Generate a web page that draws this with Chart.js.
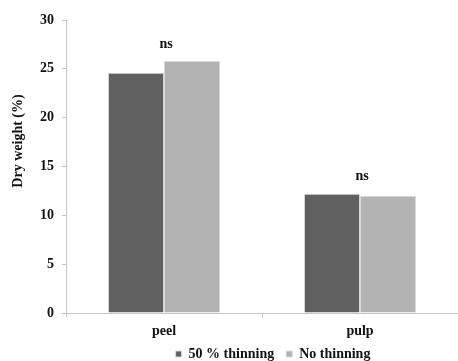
<!DOCTYPE html>
<html>
<head>
<meta charset="utf-8">
<script src="https://cdn.jsdelivr.net/npm/chart.js@4.4.1/dist/chart.umd.min.js"></script>
<style>
  html, body { margin: 0; padding: 0; background: #ffffff; }
  #wrap { width: 458px; height: 361px; position: relative; }
</style>
</head>
<body>
<div id="wrap"><canvas id="c" width="458" height="361"></canvas></div>
<script>
// Dry weight of fruit tissues under two thinning treatments
const categories = ['peel', 'pulp'];
const thinning50 = [24.6, 12.2];
const noThinning = [25.8, 12.0];
const significance = ['ns', 'ns'];
const seriesNames = ['50 % thinning', 'No thinning'];
const yAxisTitle = 'Dry weight (%)';

const FONT = '"Liberation Serif", "Times New Roman", serif';
const AXIS = '#c6c6c6';

// Significance markers above each category's bar group
const sigPlugin = {
  id: 'sigLabels',
  afterDatasetsDraw(chart) {
    const { ctx, scales } = chart;
    ctx.save();
    ctx.font = 'bold 14px ' + FONT;
    ctx.fillStyle = '#111';
    ctx.textAlign = 'center';
    ctx.textBaseline = 'middle';
    categories.forEach((c, i) => {
      const top = Math.max(thinning50[i], noThinning[i]);
      const x = scales.x.getPixelForValue(i) + 2;
      const y = scales.y.getPixelForValue(top) - 17;
      ctx.fillText(significance[i], x, y);
    });
    ctx.restore();
  }
};

// Vertical axis title, drawn rotated beside the tick labels
const yTitlePlugin = {
  id: 'yTitle',
  afterDraw(chart) {
    const { ctx } = chart;
    ctx.save();
    ctx.font = 'bold 14px ' + FONT;
    ctx.fillStyle = '#111';
    ctx.textAlign = 'center';
    ctx.textBaseline = 'middle';
    ctx.translate(18, 141);
    ctx.rotate(-Math.PI / 2);
    ctx.fillText(yAxisTitle, 0, 0);
    ctx.restore();
  }
};

// Place the legend row under the plot, centred a little right of the canvas middle
const legendPlacePlugin = {
  id: 'legendPlace',
  afterLayout(chart) {
    const lg = chart.legend;
    if (!lg) return;
    const pad = lg.options.labels.padding;
    const dy = 347 - (lg.top + pad);
    lg.top += dy;
    lg.bottom = chart.height + 4;
    lg.height = lg.bottom - lg.top;
    lg.left += 44; lg.right += 44;
  }
};

new Chart(document.getElementById('c'), {
  type: 'bar',
  data: {
    labels: categories,
    datasets: [
      { label: seriesNames[0], data: thinning50, backgroundColor: '#606060', borderColor: '#d8d8d8', borderWidth: 1 },
      { label: seriesNames[1], data: noThinning, backgroundColor: '#b3b3b3', borderColor: '#d8d8d8', borderWidth: 1 }
    ]
  },
  options: {
    responsive: false,
    animation: false,
    devicePixelRatio: 1,
    layout: { padding: { top: 20, right: 0, left: 0, bottom: 0 } },
    datasets: { bar: { categoryPercentage: 0.572, barPercentage: 1.0 } },
    plugins: {
      legend: {
        position: 'bottom',
        maxHeight: 18,
        labels: {
          font: { family: FONT, size: 14, weight: 'bold' },
          color: '#111',
          boxWidth: 6,
          boxHeight: 6,
          padding: 12
        }
      },
      tooltip: { enabled: false }
    },
    scales: {
      x: {
        grid: { display: true, drawOnChartArea: false, color: AXIS, tickLength: 4, offset: true },
        border: { color: AXIS, width: 1 },
        ticks: { font: { family: FONT, size: 14, weight: 'bold' }, color: '#111', padding: 6 },
        afterFit(scale) {
          const lg = scale.chart.legend;
          scale.height = 48 - (lg ? lg.height : 0);
        }
      },
      y: {
        min: 0, max: 30,
        grid: { display: true, drawOnChartArea: false, color: AXIS, tickLength: 4 },
        border: { color: AXIS, width: 1 },
        ticks: { stepSize: 5, font: { family: FONT, size: 14, weight: 'bold' }, color: '#111', padding: 8 },
        afterFit(scale) { scale.width = 66; }
      }
    }
  },
  plugins: [sigPlugin, yTitlePlugin, legendPlacePlugin]
});
</script>
</body>
</html>
